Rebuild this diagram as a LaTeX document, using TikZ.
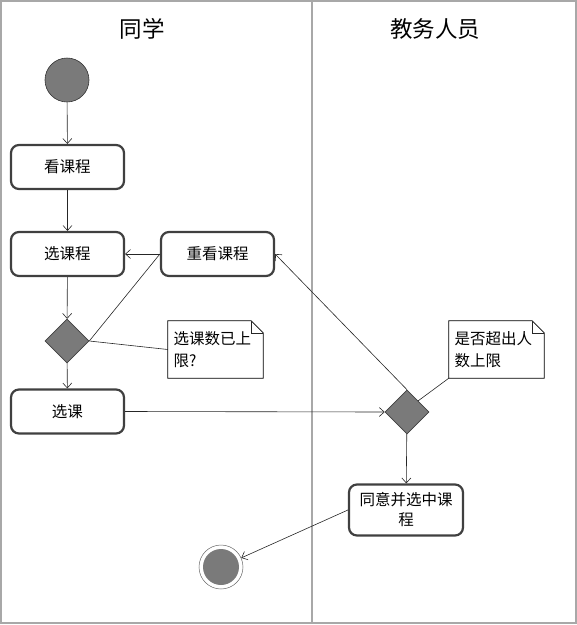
\documentclass[tikz,border=0pt]{standalone}
\usepackage{fontspec}
\setmainfont{Noto Sans CJK SC}
\usetikzlibrary{arrows.meta,shapes.geometric,calc}
\definecolor{lanegray}{HTML}{A8A8A8}
\definecolor{boxborder}{HTML}{404040}
\definecolor{fillgray}{HTML}{7A7A7A}
\tikzset{
  lane/.style={draw=lanegray, line width=1.3pt},
  act/.style={draw=boxborder, line width=2.2pt, rounded corners=8pt, fill=white,
    minimum width=113pt, minimum height=44pt, inner sep=0pt, align=center,
    font=\fontsize{15.5}{20}\selectfont},
  dec/.style={diamond, draw=black!75, line width=0.6pt, fill=fillgray,
    minimum width=44pt, minimum height=44pt, inner sep=0pt},
  notebox/.style={minimum width=95pt, minimum height=57pt, inner sep=0pt,
    text width=86pt, align=left, font=\fontsize{15.5}{21.5}\selectfont},
  noteline/.style={draw=black, line width=0.7pt, fill=white},
  conn/.style={draw=black!85, line width=0.6pt, -{Straight Barb[length=5pt,width=9pt]}},
  plain/.style={draw=black!85, line width=0.6pt},
  title/.style={font=\fontsize{22.5}{26}\selectfont}
}
\begin{document}
\begin{tikzpicture}[x=1pt,y=-1pt]
\useasboundingbox (0,0) rectangle (577,625);
\draw[lane] (1,1) rectangle (576,623);
\draw[lane] (312,1) -- (312,623);
\node[title] (t1) at (142,29) {同学};
\node[title] (t2) at (435,29) {教务人员};

\node[circle, draw=black!80, line width=0.6pt, fill=fillgray, minimum size=44pt, inner sep=0pt] (start) at (67,80) {};
\node[act] (k1) at (67.5,167) {看课程};
\node[act] (k2) at (67.5,254) {选课程};
\node[act] (k3) at (217.5,254) {重看课程};
\node[dec] (d1) at (67,341) {};
\node[act] (k4) at (67.5,411.5) {选课};
\node[dec] (d2) at (407,412) {};
\node[act, minimum width=114pt, minimum height=51pt] (k5) at (406,510) {同意并选中课\\程};
\node[circle, draw=black!60, line width=0.5pt, minimum size=44pt, inner sep=0pt] (end) at (221,567) {};
\node[circle, fill=fillgray, minimum size=36pt, inner sep=0pt] (endin) at (221,567) {};

% notes
\node[notebox] (n1) at (215.5,349.5) {};
\draw[noteline] (n1.north west) -- ($(n1.north east)+(-12,0)$) -- ($(n1.north east)+(0,12)$) -- (n1.south east) -- (n1.south west) -- cycle;
\draw[plain, line width=0.5pt] ($(n1.north east)+(-12,0)$) -- ($(n1.north east)+(-12,12)$) -- ($(n1.north east)+(0,12)$);
\node[notebox] (n1t) at (216.5,349.5) {选课数已上\\限?};

\node[notebox] (n2) at (496.5,349.5) {};
\draw[noteline] (n2.north west) -- ($(n2.north east)+(-12,0)$) -- ($(n2.north east)+(0,12)$) -- (n2.south east) -- (n2.south west) -- cycle;
\draw[plain, line width=0.5pt] ($(n2.north east)+(-12,0)$) -- ($(n2.north east)+(-12,12)$) -- ($(n2.north east)+(0,12)$);
\node[notebox] (n2t) at (497.5,349.5) {是否超出人\\数上限};

% connectors
\draw[conn] (start) -- (k1);
\draw[conn] (k1) -- (k2);
\draw[conn] (k2) -- (d1);
\draw[conn] (d1) -- (k4);
\draw[conn] (k3.west) -- (k2.east);
\draw[plain] (d1.east) -- (k3.west);
\draw[plain] (d1.east) -- (n1.west);
\draw[conn] (k4.east) -- (d2.west);
\draw[conn] (d2.north) -- (k3.east);
\draw[plain] (d2.north east) -- (n2.south west);
\draw[conn] (d2) -- (k5);
\draw[conn] (k5.west) -- (end);
\end{tikzpicture}
\end{document}
